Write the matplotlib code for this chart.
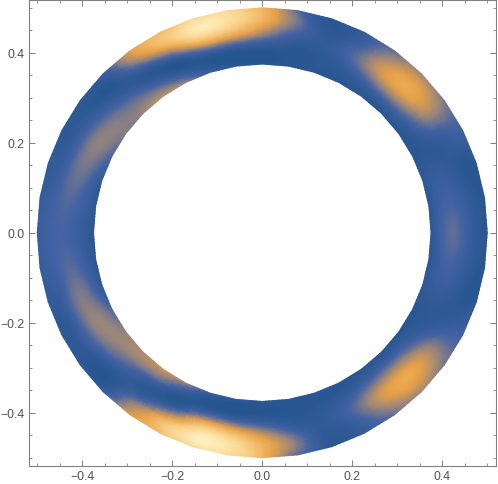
import matplotlib
matplotlib.use("Agg")
import matplotlib.pyplot as plt
import matplotlib.tri as mtri
import numpy as np
from matplotlib.colors import LinearSegmentedColormap
from matplotlib.ticker import MultipleLocator

plt.rcParams["font.family"] = ["Liberation Sans", "DejaVu Sans"]

# polar sample positions of the ring
angles_deg = np.arange(0, 360, 9)
radii = [0.375, 0.406, 0.4375, 0.469, 0.5]

# one row per angle, one column per radius
values = [
    [.06, .22, .23, .10, .04],  # 0
    [.05, .18, .18, .08, .03],
    [.06, .12, .10, .04, .05],
    [.04, .05, .08, .14, .18],
    [.03, .15, .35, .40, .30],
    [.03, .24, .51, .54, .38],  # 45
    [.04, .20, .44, .42, .26],
    [.03, .10, .22, .16, .10],
    [.03, .05, .08, .06, .05],
    [.04, .03, .13, .30, .24],
    [.04, .03, .32, .60, .62],  # 90
    [.07, .02, .46, .84, .82],
    [.14, .02, .46, .92, .82],
    [.34, .04, .16, .64, .66],
    [.42, .18, .05, .34, .52],
    [.36, .28, .11, .04, .14],  # 135
    [.31, .33, .21, .06, .07],
    [.21, .33, .28, .11, .06],
    [.09, .24, .27, .14, .09],
    [.05, .17, .23, .18, .11],
    [.04, .14, .20, .19, .14],  # 180
    [.05, .17, .23, .18, .11],
    [.08, .25, .29, .14, .09],
    [.22, .35, .30, .11, .06],
    [.34, .36, .23, .06, .07],
    [.40, .30, .12, .04, .13],  # 225
    [.46, .20, .05, .32, .50],
    [.36, .04, .16, .64, .66],
    [.14, .02, .48, .92, .84],
    [.07, .02, .46, .86, .84],
    [.04, .03, .32, .60, .62],  # 270
    [.04, .03, .13, .32, .24],
    [.03, .05, .08, .06, .05],
    [.03, .10, .22, .16, .10],
    [.04, .20, .44, .42, .26],
    [.03, .24, .51, .54, .38],  # 315
    [.03, .15, .35, .40, .30],
    [.04, .05, .08, .14, .18],
    [.06, .12, .10, .04, .05],
    [.05, .18, .18, .08, .03],
]

major_ticks = [-0.4, -0.2, 0.0, 0.2, 0.4]

ring_cmap = LinearSegmentedColormap.from_list(
    "ring",
    [
        (0.0, "#25558e"),
        (0.2, "#4463a4"),
        (0.35, "#94847f"),
        (0.52, "#e8a148"),
        (0.75, "#f8cc80"),
        (1.0, "#fff3c4"),
    ],
)

n_a = len(angles_deg)
n_r = len(radii)
theta = np.radians(angles_deg)
tt, rr = np.meshgrid(theta, radii, indexing="ij")
x = (rr * np.cos(tt)).ravel()
y = (rr * np.sin(tt)).ravel()
z = np.array(values).ravel()

triangles = []
for i in range(n_a):
    k = (i + 1) % n_a
    for j in range(n_r - 1):
        a = i * n_r + j
        b = k * n_r + j
        triangles.append([a, b, b + 1])
        triangles.append([a, b + 1, a + 1])

tri = mtri.Triangulation(x, y, triangles)
interp = mtri.CubicTriInterpolator(tri, z, kind="min_E")
fine_tri, fine_z = mtri.UniformTriRefiner(tri).refine_field(z, triinterpolator=interp, subdiv=3)

fig = plt.figure(figsize=(4.98, 4.85), dpi=100)
ax = fig.add_axes([28.5 / 498, 18 / 485, 467.1 / 498, 466.5 / 485])
ax.tripcolor(fine_tri, np.clip(fine_z, 0, 1), shading="gouraud", cmap=ring_cmap, vmin=0, vmax=1)

ax.set_xlim(-0.5195, 0.5185)
ax.set_ylim(-0.5185, 0.5185)
ax.set_xticks(major_ticks)
ax.set_yticks(major_ticks)
ax.xaxis.set_minor_locator(MultipleLocator(0.05))
ax.yaxis.set_minor_locator(MultipleLocator(0.05))
ax.tick_params(which="major", direction="in", length=4, width=0.7, color="#808080",
               top=True, right=True, labelsize=8.8, labelcolor="#505050", pad=3)
ax.tick_params(which="minor", direction="in", length=2.2, width=0.6, color="#808080",
               top=True, right=True)
for spine in ax.spines.values():
    spine.set_color("#808080")
    spine.set_linewidth(0.8)

fig.savefig("out.png", dpi=100)
plt.close(fig)
